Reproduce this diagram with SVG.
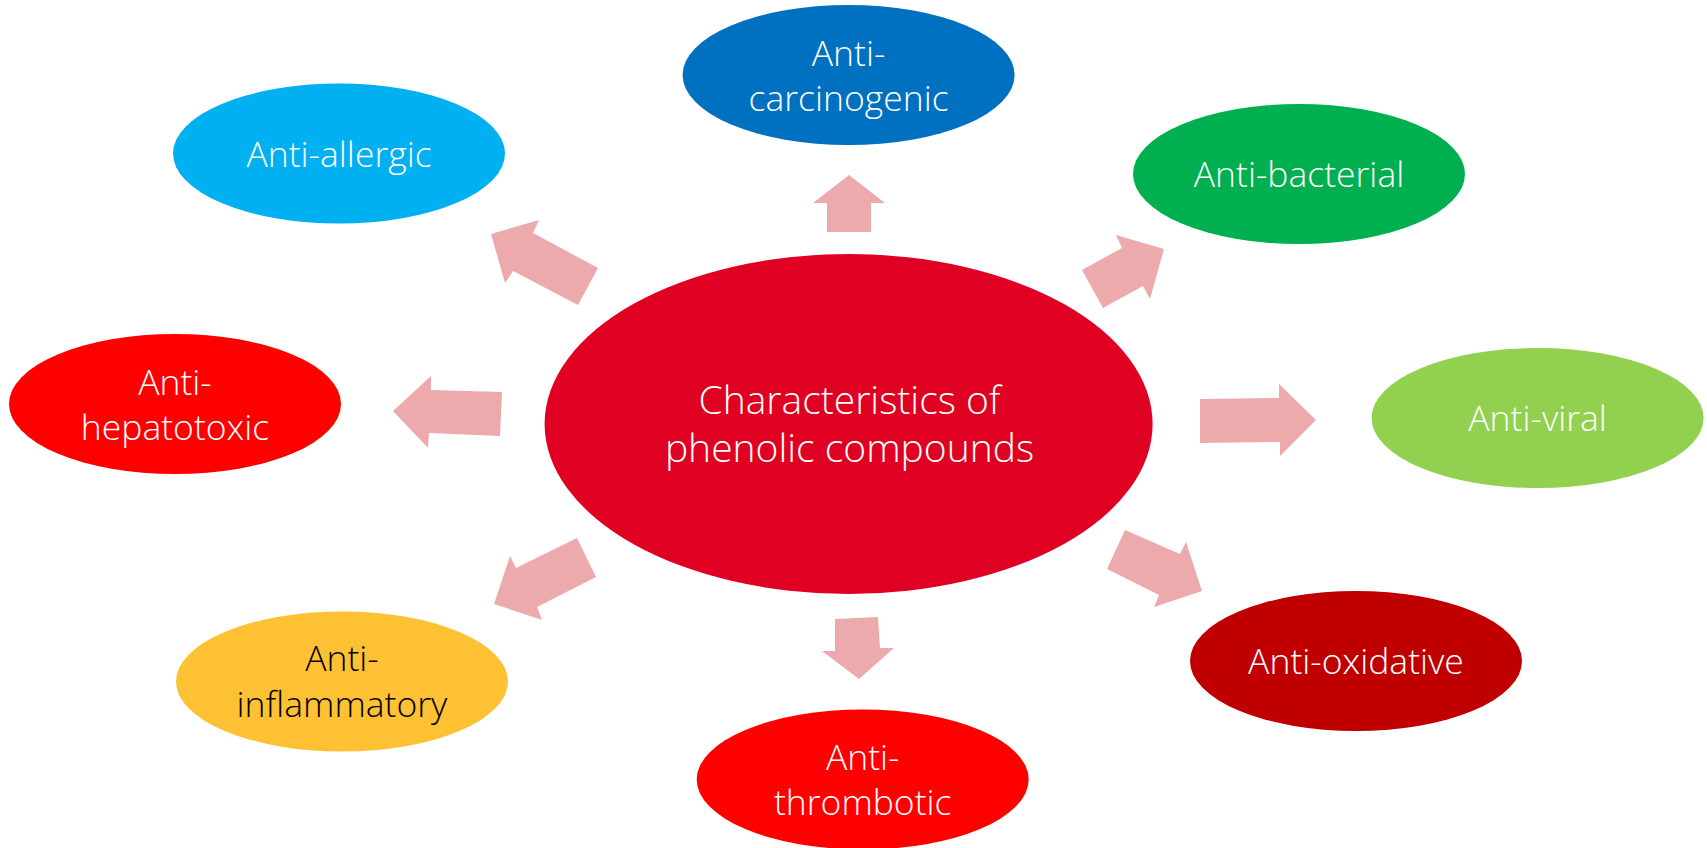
<svg xmlns="http://www.w3.org/2000/svg" width="1707" height="848" viewBox="0 0 1707 848">
<style>
.lbl{font-family:"Open Sans","Segoe UI","Liberation Sans",sans-serif;font-weight:300;font-size:35.5px;fill:#fff;text-anchor:middle}
.big{font-size:39px}
.dark{fill:#000}
.arr{fill:#EDAAAC}
</style>
<rect width="1707" height="848" fill="#fff"/>
<g id="connectors">
<polygon class="arr" points="491,234 539,220 533,233 598,268 578,305 513,271 505,283"/>
<polygon class="arr" points="849,175 813,203 827,203 827,232 871,232 871,203 885,203"/>
<polygon class="arr" points="1164,249 1116,235 1122,248 1082,270 1103,308 1143,286 1150,299"/>
<polygon class="arr" points="1316,420 1279,384 1279,398 1200,399 1200,443 1280,442 1280,456"/>
<polygon class="arr" points="393,411 431,376 431,390 502,392 500,436 429,433 428,448"/>
<polygon class="arr" points="494,604 510,556 516,568 577,538 596,577 537,607 542,620"/>
<polygon class="arr" points="859,679 822,651 835,651 835,619 878,617 880,648 894,648"/>
<polygon class="arr" points="1202,591 1186,542 1180,554 1125,530 1107,569 1159,595 1154,607"/>
</g>
<g id="center">
<ellipse cx="848.6" cy="424" rx="304" ry="170" fill="#E00021"/>
<text class="lbl big" x="849.5" y="414">Characteristics of</text>
<text class="lbl big" x="849.5" y="462">phenolic compounds</text>
</g>
<g id="anti-carcinogenic">
<ellipse cx="848.6" cy="75" rx="166" ry="70" fill="#0070C0"/>
<text class="lbl" x="848.6" y="66">Anti-</text>
<text class="lbl" x="848.6" y="111">carcinogenic</text>
</g>
<g id="anti-allergic">
<ellipse cx="339" cy="153.5" rx="166" ry="70" fill="#00B0F0"/>
<text class="lbl" x="339" y="167">Anti-allergic</text>
</g>
<g id="anti-bacterial">
<ellipse cx="1299" cy="174" rx="166" ry="70" fill="#00B050"/>
<text class="lbl" x="1299" y="187">Anti-bacterial</text>
</g>
<g id="anti-hepatotoxic">
<ellipse cx="175" cy="404" rx="166" ry="70" fill="#FF0000"/>
<text class="lbl" x="175" y="395">Anti-</text>
<text class="lbl" x="175" y="440">hepatotoxic</text>
</g>
<g id="anti-viral">
<ellipse cx="1537.6" cy="418" rx="166" ry="70" fill="#92D050"/>
<text class="lbl" x="1537.6" y="431">Anti-viral</text>
</g>
<g id="anti-inflammatory">
<ellipse cx="342" cy="681.5" rx="166" ry="70" fill="#FFC134"/>
<text class="lbl dark" x="342" y="671">Anti-</text>
<text class="lbl dark" x="342" y="717">inflammatory</text>
</g>
<g id="anti-oxidative">
<ellipse cx="1356" cy="661" rx="166" ry="70" fill="#C00000"/>
<text class="lbl" x="1356" y="674">Anti-oxidative</text>
</g>
<g id="anti-thrombotic">
<ellipse cx="862.7" cy="779.5" rx="166" ry="70" fill="#FF0000"/>
<text class="lbl" x="862.7" y="769.5">Anti-</text>
<text class="lbl" x="862.7" y="815">thrombotic</text>
</g>
</svg>
